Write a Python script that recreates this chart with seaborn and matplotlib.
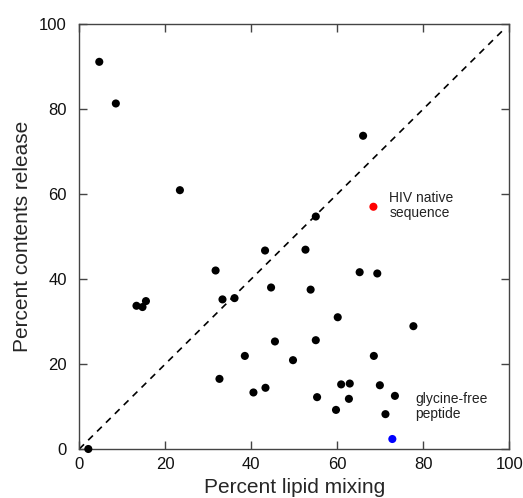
import pandas as pd
import matplotlib
matplotlib.use("Agg")
import matplotlib.pyplot as plt
import seaborn as sns

# datos
lipid_mixing = [4.65, 8.5, 23.4, 66.0, 55.0, 43.2, 52.6, 31.7, 65.2, 69.3,
                44.6, 53.8, 13.3, 14.7, 15.5, 33.3, 36.1, 60.1, 77.7, 45.5,
                55.0, 38.5, 49.7, 68.5, 32.6, 40.5, 43.3, 60.9, 62.9, 69.9,
                55.3, 62.7, 73.4, 59.7, 71.2, 2.1, 68.4, 72.8]
contents_release = [91.1, 81.3, 60.9, 73.7, 54.7, 46.7, 46.9, 42.0, 41.6, 41.3,
                    38.0, 37.5, 33.7, 33.4, 34.8, 35.2, 35.5, 31.0, 28.9, 25.3,
                    25.6, 21.9, 20.9, 21.9, 16.5, 13.3, 14.4, 15.2, 15.4, 15.0,
                    12.2, 11.8, 12.5, 9.2, 8.2, 0.0, 57.0, 2.35]
grupo = ["otro"] * 36 + ["HIV", "glicina"]
colores = {"otro": "black", "HIV": "#ff0000", "glicina": "#0000ff"}
diagonal = [0, 99]
ticks = [0, 20, 40, 60, 80, 100]

df = pd.DataFrame({"lipid": lipid_mixing, "release": contents_release, "grupo": grupo})

sns.set_style("ticks")
plt.rcParams["font.family"] = ["Liberation Sans", "DejaVu Sans"]

fig = plt.figure(figsize=(5.23, 4.98), dpi=100)
ax = fig.add_axes([0.1516, 0.0984, 0.8222, 0.8534])

sns.lineplot(x=diagonal, y=diagonal, ax=ax, color="black", linewidth=1.2,
             linestyle=(0, (4, 3.5)))
sns.scatterplot(data=df, x="lipid", y="release", hue="grupo", palette=colores,
                s=34, linewidth=0, legend=False, ax=ax, clip_on=False, zorder=3)

ax.text(72.1, 57.4, "HIV native\nsequence", fontsize=10, va="center", ha="left",
        linespacing=1.1, color="#222222")
ax.text(78.1, 10.0, "glycine-free\npeptide", fontsize=10, va="center", ha="left",
        linespacing=1.1, color="#222222")

ax.set_xlim(0, 100)
ax.set_ylim(0, 100)
ax.set_xticks(ticks)
ax.set_yticks(ticks)
ax.tick_params(direction="in", length=6, width=1, top=True, right=True,
               labelsize=12, color="#444444", labelcolor="#111111")
ax.tick_params(axis="x", pad=6)
ax.tick_params(axis="y", pad=9)
for s in ax.spines.values():
    s.set_linewidth(1.0)
    s.set_color("#444444")
ax.set_xlabel("Percent lipid mixing", fontsize=15, labelpad=4)
ax.set_ylabel("Percent contents release", fontsize=15, labelpad=5)

fig.savefig("out.png", dpi=100)
